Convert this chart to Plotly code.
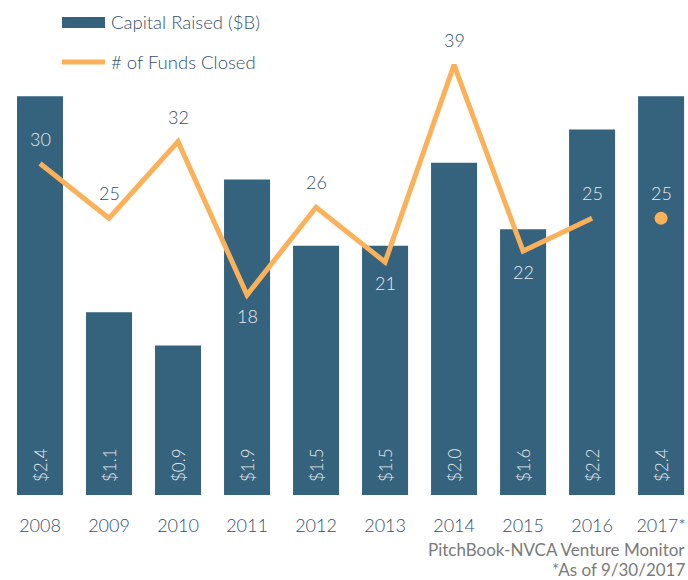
import plotly.graph_objects as go

# Venture fund activity by year
years = ["2008", "2009", "2010", "2011", "2012", "2013", "2014", "2015", "2016", "2017*"]
capital_raised = [2.4, 1.1, 0.9, 1.9, 1.5, 1.5, 2.0, 1.6, 2.2, 2.4]
funds_closed = [30, 25, 32, 18, 26, 21, 39, 22, 25, 25]
label_above = [True, True, True, False, True, False, True, False, True, True]
label_on_bar = [True, False, False, True, False, True, False, True, True, True]

BAR = "#35627c"
ORANGE = "#fbb15a"
DARK = "#33506c"
LIGHT = "#e6ebef"
GRAY = "#7a7a7a"
FONT = "Lato"
THIN = 300

W, H = 688, 580
MT, MB = 0, 85
PH = H - MT - MB

x_idx = list(range(len(years)))

fig = go.Figure()

fig.add_trace(go.Bar(
    x=x_idx, y=capital_raised, marker=dict(color=BAR, line=dict(width=0)),
    width=0.667, showlegend=False, hoverinfo="skip",
))

# Line covers completed years; the partial year is a lone point
fig.add_trace(go.Scatter(
    x=x_idx[:-1], y=funds_closed[:-1], mode="lines",
    line=dict(color=ORANGE, width=5), yaxis="y2", showlegend=False,
    hoverinfo="skip",
))
fig.add_trace(go.Scatter(
    x=x_idx[-1:], y=funds_closed[-1:], mode="markers",
    marker=dict(color=ORANGE, size=13), yaxis="y2", showlegend=False,
    hoverinfo="skip",
))

annotations = []
# Capital values written vertically at the foot of each bar
for i, v in zip(x_idx, capital_raised):
    annotations.append(dict(
        x=i, y=0, xref="x", yref="y", text=f"${v:.1f}", textangle=-90,
        showarrow=False, xanchor="center", yanchor="bottom", yshift=11,
        font=dict(family=FONT, size=17, color=LIGHT, weight=THIN),
    ))

# Fund counts next to each point
for i, v, up, on_bar in zip(x_idx, funds_closed, label_above, label_on_bar):
    annotations.append(dict(
        x=i, y=v, xref="x", yref="y2", text=str(v), showarrow=False,
        xanchor="center", yanchor="middle", yshift=25 if up else -21,
        font=dict(family=FONT, size=18, color=LIGHT if on_bar else DARK,
                  weight=THIN),
    ))


def px_x(px):
    return px / W


def px_y(py):
    return 1 - (py - MT) / PH


# Legend drawn as shapes + text
shapes = [
    dict(type="rect", xref="paper", yref="paper",
         x0=px_x(62), x1=px_x(105), y0=px_y(28), y1=px_y(17),
         fillcolor=BAR, line=dict(width=0)),
    dict(type="line", xref="paper", yref="paper",
         x0=px_x(62), x1=px_x(105), y0=px_y(62), y1=px_y(62),
         line=dict(color=ORANGE, width=5)),
]
for text, cy in [("Capital Raised ($B)", 22), ("# of Funds Closed", 62)]:
    annotations.append(dict(
        x=px_x(109), y=px_y(cy), xref="paper", yref="paper", text=text,
        showarrow=False, xanchor="left", yanchor="middle",
        font=dict(family=FONT, size=18.5, color=DARK, weight=THIN),
    ))

# Source notes
for text, cy in [("PitchBook-NVCA Venture Monitor", 549), ("*As of 9/30/2017", 569)]:
    annotations.append(dict(
        x=px_x(687), y=px_y(cy), xref="paper", yref="paper", text=text,
        showarrow=False, xanchor="right", yanchor="middle",
        font=dict(family=FONT, size=17, color=GRAY),
    ))

fig.update_layout(
    width=W, height=H,
    margin=dict(l=0, r=0, t=MT, b=MB, pad=0),
    paper_bgcolor="white", plot_bgcolor="white",
    bargap=0.333,
    xaxis=dict(
        range=[-0.58, 9.39], tickmode="array", tickvals=x_idx, ticktext=years,
        showgrid=False, zeroline=False, showline=False,
        ticks="outside", ticklen=14, tickcolor="rgba(0,0,0,0)",
        tickfont=dict(family=FONT, size=18, color=DARK, weight=THIN),
    ),
    yaxis=dict(range=[0, 2.98], visible=False, showgrid=False, zeroline=False),
    yaxis2=dict(range=[-0.27, 44.93], overlaying="y", visible=False,
                showgrid=False, zeroline=False),
    annotations=annotations,
    shapes=shapes,
    showlegend=False,
)

fig.write_html("out.html")
